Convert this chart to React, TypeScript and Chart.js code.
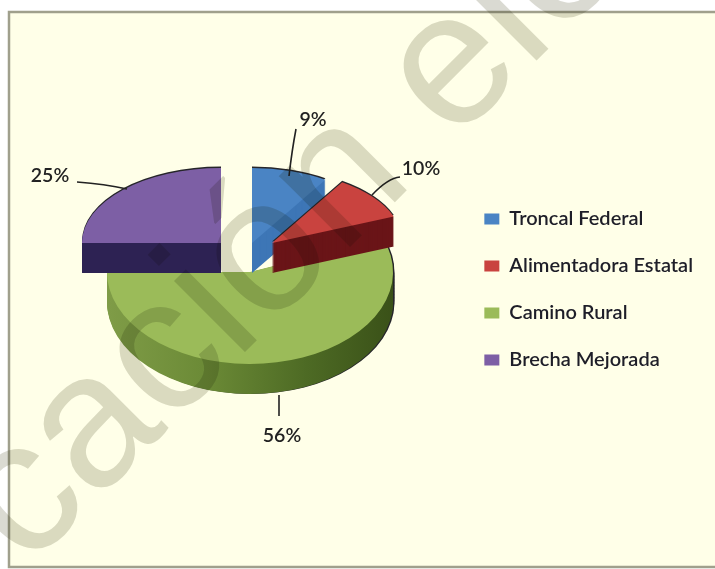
import React, { useEffect, useRef } from "react";
import { Chart, registerables } from "chart.js";

Chart.register(...registerables);

const categories = ["Troncal Federal", "Alimentadora Estatal", "Camino Rural", "Brecha Mejorada"];
const values = [9, 10, 56, 25];
const topColors = ["#4a84c4", "#c9433f", "#9bbb59", "#7d5fa5"];
const sideColors = ["#3d76b6", "#6a1518", "#55722a", "#2d2253"];

const W = 715;
const H = 569;
const DEPTH = 30;
const sliceBoxes = [
  { cx: 252, cy: 243, rx: 137, ry: 75 },
  { cx: 272, cy: 243, rx: 131, ry: 72 },
  { cx: 250, cy: 272, rx: 143, ry: 92 },
  { cx: 221, cy: 243, rx: 139, ry: 75 },
];
const drawOrder = [2, 0, 1, 3];
const labelSpots = [
  { x: 313, y: 120, line: [[289, 176], [292, 150], [296, 129]] },
  { x: 421, y: 169, line: [[372, 195], [388, 178], [400, 177]] },
  { x: 282, y: 436, line: [[279, 395], [279, 405], [279, 416]] },
  { x: 50, y: 176, line: [[77, 182], [105, 184], [127, 189]] },
];

const paintSlice = (ctx: CanvasRenderingContext2D, el: any, i: number, dx: number, dy: number, fill: any) => {
  const b = sliceBoxes[i];
  const keep = el.options;
  ctx.save();
  ctx.translate(b.cx + dx, b.cy + dy);
  ctx.scale(b.rx / el.outerRadius, b.ry / el.outerRadius);
  ctx.translate(-el.x, -el.y);
  el.options = { ...keep, backgroundColor: fill, borderWidth: 0 };
  el.draw(ctx);
  el.options = keep;
  ctx.restore();
};

const pie3d = {
  id: "pie3d",
  beforeDraw(chart: any) {
    const ctx = chart.ctx;
    ctx.save();
    ctx.fillStyle = "#ffffff";
    ctx.fillRect(0, 0, W, H);
    ctx.fillStyle = "#ffffe8";
    ctx.fillRect(9, 12, W, 555);
    ctx.strokeStyle = "#a0a08c";
    ctx.lineWidth = 2.5;
    ctx.beginPath();
    ctx.moveTo(W + 5, 12);
    ctx.lineTo(9, 12);
    ctx.lineTo(9, 567);
    ctx.lineTo(W + 5, 567);
    ctx.stroke();
    ctx.restore();
  },
  beforeDatasetsDraw(chart: any) {
    const ctx = chart.ctx;
    const arcs = chart.getDatasetMeta(0).data;
    drawOrder.forEach((i) => {
      const el = arcs[i];
      let side: any = sideColors[i];
      if (i === 2) {
        side = ctx.createLinearGradient(el.x - el.outerRadius, 0, el.x + el.outerRadius, 0);
        side.addColorStop(0, "#7f9c47");
        side.addColorStop(0.35, "#6b8a36");
        side.addColorStop(0.7, "#4d6a24");
        side.addColorStop(1, "#3a5118");
        for (let d = 0; d <= DEPTH; d += 3) paintSlice(ctx, el, i, 1.5, d, "#26262a");
      } else {
        paintSlice(ctx, el, i, 0, -1.5, "#26262a");
      }
      for (let d = DEPTH; d >= 1; d--) paintSlice(ctx, el, i, 0, d, side);
      paintSlice(ctx, el, i, 0, 0, topColors[i]);
    });

    ctx.save();
    ctx.strokeStyle = "#222222";
    ctx.lineWidth = 1.6;
    ctx.fillStyle = "#222222";
    ctx.font = "600 19.5px Lato";
    ctx.textAlign = "center";
    ctx.textBaseline = "middle";
    labelSpots.forEach((s, i) => {
      ctx.beginPath();
      ctx.moveTo(s.line[0][0], s.line[0][1]);
      ctx.quadraticCurveTo(s.line[1][0], s.line[1][1], s.line[2][0], s.line[2][1]);
      ctx.stroke();
      ctx.fillText(values[i] + "%", s.x, s.y);
    });
    ctx.restore();
    return false;
  },
  afterDraw(chart: any) {
    const ctx = chart.ctx;
    ctx.save();
    ctx.globalCompositeOperation = "multiply";
    ctx.fillStyle = "#dadad2";
    ctx.translate(27, 570);
    ctx.rotate((-45 * Math.PI) / 180);
    ctx.font = "190px 'Liberation Sans'";
    ctx.textBaseline = "alphabetic";
    ctx.fillText("cación ele", 0, 0);
    ctx.restore();
  },
};

export default function App() {
  const ref = useRef<HTMLCanvasElement>(null);
  useEffect(() => {
    const chart = new Chart(ref.current as HTMLCanvasElement, {
      type: "pie",
      data: {
        labels: categories,
        datasets: [{ data: values, backgroundColor: topColors, borderWidth: 0 }],
      },
      options: {
        responsive: false,
        animation: false,
        layout: { padding: { right: 12, top: 10, bottom: 0 } },
        plugins: {
          tooltip: { enabled: false },
          legend: {
            position: "right",
            labels: {
              color: "#1e1e28",
              font: { family: "Lato", size: 20, weight: "600" },
              boxWidth: 15,
              boxHeight: 11,
              padding: 27,
            },
          },
        },
      },
      plugins: [pie3d],
    } as any);
    return () => chart.destroy();
  }, []);
  return (
    <canvas
      ref={ref}
      width={W}
      height={H}
      style={{ position: "fixed", left: 0, top: 0, width: W, height: H, filter: "blur(0.6px)" }}
    />
  );
}
